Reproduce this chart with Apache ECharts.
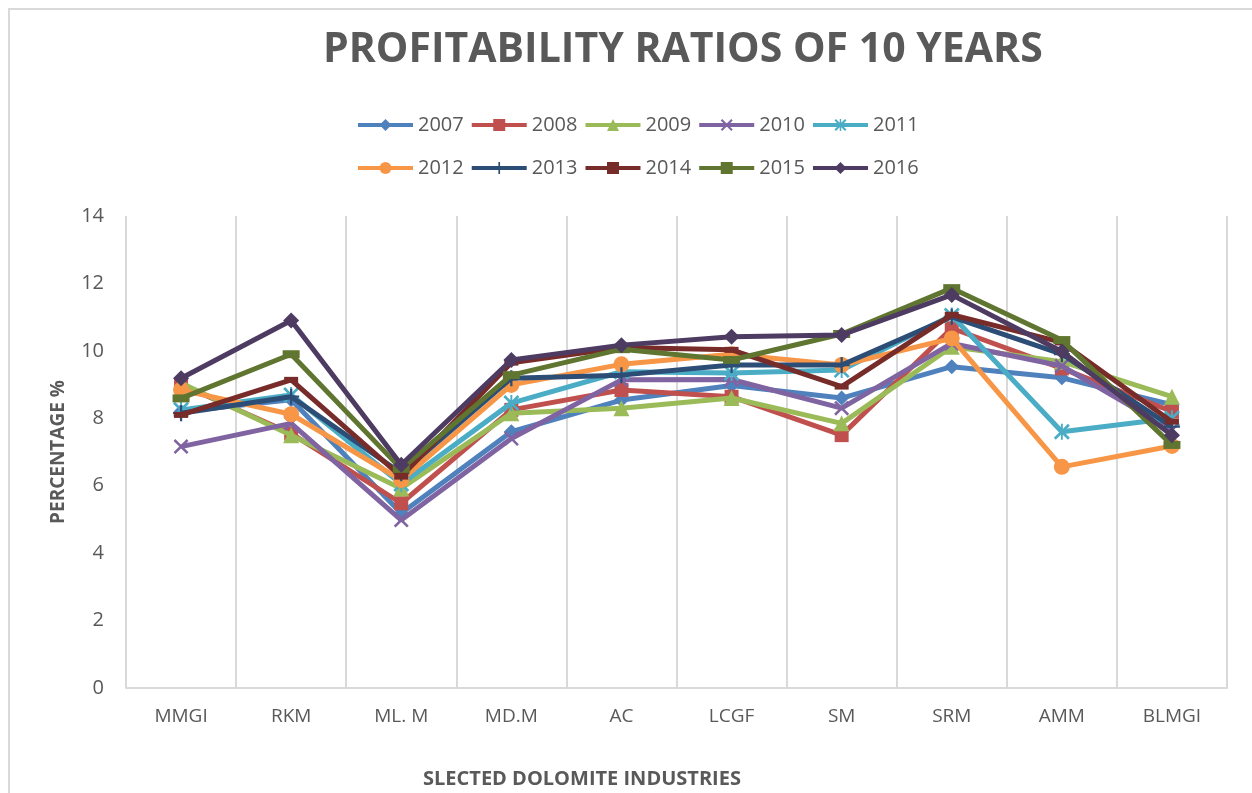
<!DOCTYPE html>
<html>
<head>
<meta charset="utf-8">
<script src="https://cdn.jsdelivr.net/npm/echarts@6/dist/echarts.min.js"></script>
<style>
html,body{margin:0;padding:0;background:#fff;}
#chart{width:1252px;height:793px;}
</style>
</head>
<body>
<div id="chart"></div>
<script>
var categories = ['MMGI', 'RKM', 'ML. M', 'MD.M', 'AC', 'LCGF', 'SM', 'SRM', 'AMM', 'BLMGI'];
var yTicks = [0, 2, 4, 6, 8, 10, 12, 14];
var years = ['2007', '2008', '2009', '2010', '2011', '2012', '2013', '2014', '2015', '2016'];

var v2007 = [8.2, 8.55, 5.18, 7.6, 8.54, 8.97, 8.6, 9.53, 9.2, 8.4];
var v2008 = [9.0, 7.55, 5.48, 8.25, 8.84, 8.64, 7.5, 10.67, 9.48, 8.2];
var v2009 = [9.05, 7.5, 5.92, 8.15, 8.3, 8.6, 7.85, 10.12, 9.68, 8.64];
var v2010 = [7.16, 7.85, 4.98, 7.4, 9.14, 9.15, 8.3, 10.22, 9.55, 7.65];
var v2011 = [8.25, 8.69, 6.05, 8.45, 9.38, 9.34, 9.43, 11.05, 7.6, 8.0];
var v2012 = [8.84, 8.12, 6.17, 8.99, 9.6, 9.9, 9.58, 10.37, 6.56, 7.18];
var v2013 = [8.15, 8.64, 6.37, 9.19, 9.28, 9.58, 9.58, 11.01, 9.9, 7.75];
var v2014 = [8.1, 9.14, 6.27, 9.65, 10.1, 10.03, 8.94, 11.07, 10.25, 7.9];
var v2015 = [8.59, 9.9, 6.5, 9.28, 10.05, 9.73, 10.5, 11.86, 10.32, 7.21];
var v2016 = [9.19, 10.9, 6.62, 9.73, 10.17, 10.42, 10.47, 11.66, 9.98, 7.5];

var values = [v2007, v2008, v2009, v2010, v2011, v2012, v2013, v2014, v2015, v2016];
var colors = ['#4F81BD', '#C0504D', '#9BBB59', '#8064A2', '#4BACC6', '#F79646', '#2C4D75', '#772C2A', '#5F7530', '#4D3B62'];

var XSYM = 'path://M0,1.2 L1.2,0 L5,3.8 L8.8,0 L10,1.2 L6.2,5 L10,8.8 L8.8,10 L5,6.2 L1.2,10 L0,8.8 L3.8,5 Z';
var ASTSYM = 'path://M0,1.2 L1.2,0 L4.4,3.2 L4.4,0 L5.6,0 L5.6,3.2 L8.8,0 L10,1.2 L6.2,5 L10,8.8 L8.8,10 L5.6,6.8 L5.6,10 L4.4,10 L4.4,6.8 L1.2,10 L0,8.8 L3.8,5 Z';
var PLUSSYM = 'path://M4.3,0 H5.7 V4.3 H10 V5.7 H5.7 V10 H4.3 V5.7 H0 V4.3 H4.3 Z';
var DASHSYM = 'path://M0,0 H10 V3 H0 Z';
var symbols = ['diamond', 'rect', 'triangle', XSYM, ASTSYM, 'circle', PLUSSYM, DASHSYM, DASHSYM, 'diamond'];
var symSizes = [15, 14, 16, 15, 16, 16, 16, [14, 6], [17, 8], 16];

var series = years.map(function (y, i) {
  return {
    name: y,
    type: 'line',
    data: values[i],
    symbol: symbols[i],
    symbolSize: symSizes[i],
    showSymbol: true,
    lineStyle: { color: colors[i], width: 5 },
    itemStyle: { color: colors[i], borderWidth: 0 },
    z: 2 + i
  };
});

var chart = echarts.init(document.getElementById('chart'), null, { renderer: 'canvas' });
var txt = '#595959';
var legendText = { color: txt, fontSize: 20, fontFamily: 'Open Sans' };
chart.setOption({
  animation: false,
  backgroundColor: '#fff',
  title: {
    text: 'PROFITABILITY RATIOS OF 10 YEARS',
    left: 318,
    top: 25,
    textStyle: { color: txt, fontSize: 41, fontWeight: 'bold', fontFamily: 'Open Sans' }
  },
  legend: [
    {
      data: years.slice(0, 5), left: 351, top: 110, itemWidth: 55, itemHeight: 15, itemGap: 6,
      lineStyle: { width: 4 },
      textStyle: legendText
    },
    {
      data: years.slice(5), left: 351, top: 153, itemWidth: 55, itemHeight: 15, itemGap: 6,
      lineStyle: { width: 4 },
      textStyle: legendText
    }
  ],
  grid: { left: 126, right: 25, top: 216, bottom: 105, containLabel: false },
  xAxis: {
    type: 'category',
    data: categories,
    boundaryGap: true,
    axisLine: { lineStyle: { color: '#d9d9d9', width: 2 } },
    axisTick: { show: false },
    splitLine: { show: true, lineStyle: { color: '#d9d9d9', width: 2 } },
    axisLabel: { color: txt, fontSize: 19, fontFamily: 'Open Sans', margin: 19 }
  },
  yAxis: {
    type: 'value',
    min: yTicks[0],
    max: yTicks[yTicks.length - 1],
    interval: 2,
    name: 'PERCENTAGE %',
    nameLocation: 'middle',
    nameGap: 58,
    nameTextStyle: { color: txt, fontSize: 19, fontWeight: 'bold', fontFamily: 'Open Sans' },
    axisLine: { show: false },
    axisTick: { show: false },
    splitLine: { show: false },
    axisLabel: { color: txt, fontSize: 20, fontFamily: 'Open Sans', margin: 22 }
  },
  graphic: [
    {
      type: 'rect',
      shape: { x: 9, y: 9, width: 1300, height: 900 },
      style: { fill: 'none', stroke: '#d9d9d9', lineWidth: 2 },
      silent: true
    },
    {
      type: 'text',
      x: 582,
      y: 779,
      style: {
        text: 'SLECTED DOLOMITE INDUSTRIES',
        fill: txt,
        font: 'bold 20px "Open Sans"',
        textAlign: 'center',
        textVerticalAlign: 'middle'
      }
    }
  ],
  series: series
});
</script>
</body>
</html>
